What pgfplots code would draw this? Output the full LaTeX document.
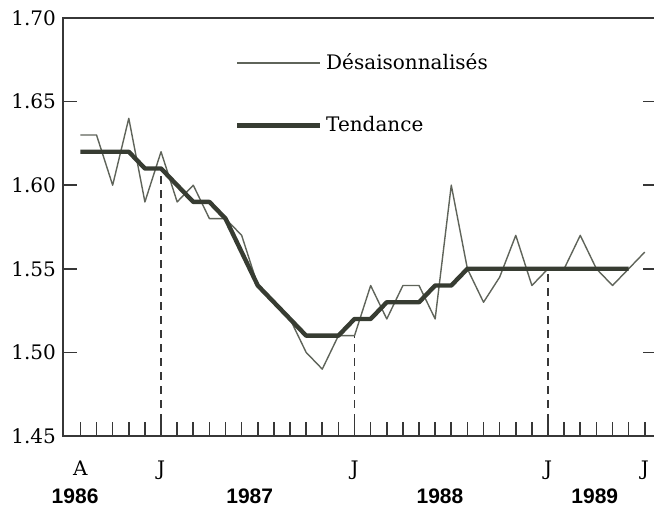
\documentclass[border=0pt]{standalone}
\usepackage{fontspec}
\setmainfont{DejaVu Serif}
\setsansfont{Liberation Sans}
\usepackage{pgfplots}
\pgfplotsset{compat=1.18}
\definecolor{thinc}{RGB}{95,100,90}
\definecolor{thickc}{RGB}{55,60,50}
\definecolor{axc}{RGB}{55,55,55}
\newcommand{\yr}[1]{{\fontsize{10.5}{12}\sffamily\bfseries #1}}
\begin{document}
\begin{tikzpicture}
\begin{axis}[
 name=ax,
 width=297pt, height=209pt, scale only axis,
 xmin=-6.08, xmax=30.76, ymin=1.45, ymax=1.70,
 axis line style={axc, line width=0.8pt},
 tick style={axc, line width=0.8pt},
 tick align=inside,
 major tick length=7pt, minor tick length=7pt,
 xtick={-5,0,12,24,30},
 xticklabels={A,J,J,J,J},
 minor xtick={-4,...,29},
 xtick pos=bottom,
 x tick label style={yshift=-9pt, font=\fontsize{10}{12}\selectfont},
 extra x ticks={-5.33,5.5,17.3,26.9},
 extra x tick labels={\yr{1986},\yr{1987},\yr{1988},\yr{1989}},
 extra x tick style={major tick length=0pt, tick label style={yshift=-14pt}},
 ytick={1.45,1.50,1.55,1.60,1.65,1.70},
 ytick pos=both,
 yticklabel pos=left,
 y tick label style={font=\fontsize{10}{12}\selectfont},
 yticklabel style={/pgf/number format/.cd, fixed, fixed zerofill, precision=2, assume math mode=true},
 legend style={draw=none, fill=none, at={(axis cs:4.55,1.6815)}, anchor=north west, inner sep=0pt, row sep=18pt, font=\fontsize{10}{12}\selectfont, cells={anchor=west}},
 legend image code/.code={\draw[#1] (0pt,0pt) -- (41.5pt,0pt);},
]
\addplot[thinc, line width=0.7pt, line join=round] coordinates {
(-5,1.63) (-4,1.63) (-3,1.60) (-2,1.64) (-1,1.59) (0,1.62) (1,1.59) (2,1.60)
(3,1.58) (4,1.58) (5,1.57) (6,1.54) (7,1.53) (8,1.52) (9,1.50) (10,1.49)
(11,1.51) (12,1.51) (13,1.54) (14,1.52) (15,1.54) (16,1.54) (17,1.52) (18,1.60)
(19,1.55) (20,1.53) (21,1.545) (22,1.57) (23,1.54) (24,1.55) (25,1.55) (26,1.57)
(27,1.55) (28,1.54) (29,1.55) (30,1.56)};
\addlegendentry{Désaisonnalisés}
\addplot[thickc, line width=2.2pt, line join=round] coordinates {
(-5,1.62) (-4,1.62) (-3,1.62) (-2,1.62) (-1,1.61) (0,1.61) (1,1.60) (2,1.59)
(3,1.59) (4,1.58) (5,1.56) (6,1.54) (7,1.53) (8,1.52) (9,1.51) (10,1.51)
(11,1.51) (12,1.52) (13,1.52) (14,1.53) (15,1.53) (16,1.53) (17,1.54) (18,1.54)
(19,1.55) (20,1.55) (21,1.55) (22,1.55) (23,1.55) (24,1.55) (25,1.55) (26,1.55)
(27,1.55) (28,1.55) (29,1.55)};
\addlegendentry{Tendance}
\addplot[axc, line width=0.7pt, dash pattern=on 4pt off 3pt, forget plot] coordinates {(0,1.45) (0,1.61)};
\addplot[axc, line width=0.7pt, dash pattern=on 4pt off 3pt, forget plot] coordinates {(12,1.45) (12,1.51)};
\addplot[axc, line width=0.7pt, dash pattern=on 4pt off 3pt, forget plot] coordinates {(24,1.45) (24,1.55)};
\end{axis}
\pgfresetboundingbox
\useasboundingbox ([shift={(-31.5pt,-36pt)}]ax.south west) rectangle ([shift={(295.5pt,9pt)}]ax.north west);
\end{tikzpicture}
\end{document}
